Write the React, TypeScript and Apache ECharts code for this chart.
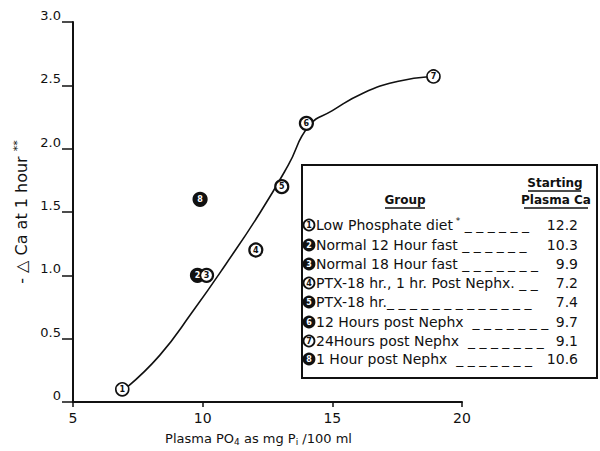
import React, { useEffect, useRef } from "react";
import * as echarts from "echarts";

// ---- data ----
const groupIds = [1, 2, 3, 4, 5, 6, 7, 8];
const plasmaPO4 = [6.9, 9.8, 10.15, 12.05, 13.05, 14.0, 18.9, 9.9];
const deltaCa = [0.1, 1.0, 1.0, 1.2, 1.7, 2.2, 2.57, 1.6];

const curveX = [7.1, 8.35, 9.6, 10.9, 12.2, 13.3, 14.1, 15.0, 16.2, 17.5, 18.8];
const curveY = [0.12, 0.37, 0.71, 1.09, 1.49, 1.87, 2.18, 2.3, 2.44, 2.53, 2.57];

const groupLabels = [
  "Low Phosphate diet",
  "Normal 12 Hour fast",
  "Normal 18 Hour fast",
  "PTX-18 hr., 1 hr. Post Nephx.",
  "PTX-18 hr.",
  "12 Hours post Nephx",
  "24Hours post Nephx",
  "1 Hour post Nephx",
];
const groupDashes = [
  " _ _ _ _ _ _",
  " _ _ _ _ _ _",
  " _ _ _ _ _ _ _",
  " _ _",
  "_ _ _ _ _ _ _ _ _ _ _ _ _",
  "  _ _ _ _ _ _ _",
  "  _ _ _ _ _ _ _",
  "  _ _ _ _ _ _ _",
];
const startingCa = ["12.2", "10.3", "9.9", "7.2", "7.4", "9.7", "9.1", "10.6"];

const X_MIN = 5, X_MAX = 20, X_STEP = 5;
const Y_MIN = 0, Y_MAX = 3, Y_STEP = 0.5;

const FONT = "DejaVu Sans";
const INK = "#111";
const plotFilled = new Set([2, 8]);
const legendFilled = new Set([2, 3, 5, 6, 8]);

export default function App() {
  const ref = useRef<HTMLDivElement>(null);

  useEffect(() => {
    if (!ref.current) return;
    const chart = echarts.init(ref.current, null, { renderer: "svg" });

    const rowY = [225, 245, 264, 283, 302, 322, 341, 359];
    const legendGraphics: any[] = [
      {
        type: "rect",
        shape: { x: 302, y: 165, width: 295, height: 213 },
        style: { fill: "#fff", stroke: INK, lineWidth: 2 },
        z: 10,
      },
      {
        type: "text",
        x: 405, y: 200,
        style: { text: "Group", font: `bold 12px "${FONT}"`, fill: INK, align: "center", verticalAlign: "middle" },
        z: 11,
      },
      { type: "line", shape: { x1: 385, y1: 208, x2: 425, y2: 208 }, style: { stroke: INK, lineWidth: 1.5 }, z: 11 },
      {
        type: "text",
        x: 555, y: 183,
        style: { text: "Starting", font: `bold 12px "${FONT}"`, fill: INK, align: "center", verticalAlign: "middle" },
        z: 11,
      },
      { type: "line", shape: { x1: 528, y1: 191, x2: 581, y2: 191 }, style: { stroke: INK, lineWidth: 1.5 }, z: 11 },
      {
        type: "text",
        x: 556, y: 200,
        style: { text: "Plasma Ca", font: `bold 12px "${FONT}"`, fill: INK, align: "center", verticalAlign: "middle" },
        z: 11,
      },
      { type: "line", shape: { x1: 524, y1: 208, x2: 588, y2: 208 }, style: { stroke: INK, lineWidth: 1.5 }, z: 11 },
    ];

    groupIds.forEach((id, i) => {
      const y = rowY[i];
      const filled = legendFilled.has(id);
      legendGraphics.push({
        type: "circle",
        shape: { cx: 309, cy: y, r: 5.5 },
        style: { fill: filled ? INK : "#fff", stroke: INK, lineWidth: 1.8 },
        z: 11,
      });
      legendGraphics.push({
        type: "text",
        x: 309, y: y + 0.5,
        style: {
          text: String(id),
          font: `bold 8px "${FONT}"`,
          fill: filled ? "#fff" : INK,
          align: "center",
          verticalAlign: "middle",
        },
        z: 12,
      });
      legendGraphics.push({
        type: "text",
        x: 316, y: y,
        style: {
          text: id === 1
            ? `{t|${groupLabels[i]}}{s| *}{t|${groupDashes[i]}}`
            : `{t|${groupLabels[i]}${groupDashes[i]}}`,
          rich: {
            t: { fontFamily: FONT, fontSize: 14, color: INK },
            s: { fontFamily: FONT, fontSize: 9, color: INK, verticalAlign: "top", padding: [0, 0, 8, 0] },
          },
          font: `14px "${FONT}"`,
          fill: INK,
          align: "left",
          verticalAlign: "middle",
        },
        z: 11,
      });
      legendGraphics.push({
        type: "text",
        x: 578, y: y,
        style: {
          text: startingCa[i],
          font: `14px "${FONT}"`,
          fill: INK,
          align: "right",
          verticalAlign: "middle",
        },
        z: 11,
      });
    });

    const option: any = {
      animation: false,
      backgroundColor: "#fff",
      grid: { left: 73, right: 138, top: 22, bottom: 43, containLabel: false },
      xAxis: {
        type: "value",
        min: X_MIN,
        max: X_MAX,
        interval: X_STEP,
        splitLine: { show: false },
        axisLine: { show: true, onZero: false, lineStyle: { color: INK, width: 2 } },
        axisTick: { show: true, length: 5, inside: false, lineStyle: { color: INK, width: 1.5 } },
        axisLabel: { color: INK, fontFamily: FONT, fontSize: 14, margin: 9 },
        name: "Plasma PO{sub|4} as mg P{sub|i} /100 ml",
        nameLocation: "middle",
        nameGap: 29,
        nameTextStyle: {
          color: INK,
          fontFamily: FONT,
          fontSize: 13,
          padding: [0, 18, 0, 0],
          rich: {
            sub: { fontFamily: FONT, fontSize: 9, color: INK, verticalAlign: "bottom", padding: [6, 0, 0, 0] },
          },
        },
      },
      yAxis: {
        type: "value",
        min: Y_MIN,
        max: Y_MAX,
        interval: Y_STEP,
        splitLine: { show: false },
        axisLine: { show: true, onZero: false, lineStyle: { color: INK, width: 2 } },
        axisTick: { show: true, length: 11, inside: false, lineStyle: { color: INK, width: 1.5 } },
        axisLabel: {
          color: INK,
          fontFamily: FONT,
          fontSize: 13,
          margin: 12,
          verticalAlign: "bottom",
          formatter: (v: number) => (v === 0 ? "0" : v.toFixed(1)),
        },
        name: "- △ Ca at 1 hour {sup|**}",
        nameLocation: "middle",
        nameRotate: 90,
        nameGap: 40,
        nameTextStyle: {
          color: INK,
          fontFamily: FONT,
          fontSize: 16,
          rich: {
            sup: { fontFamily: FONT, fontSize: 11, color: INK, verticalAlign: "top", padding: [0, 0, 8, 0] },
          },
        },
      },
      series: [
        {
          type: "line",
          data: curveX.map((x, i) => [x, curveY[i]]),
          smooth: 0.5,
          symbol: "none",
          lineStyle: { color: INK, width: 1.6 },
          z: 2,
          silent: true,
        },
        {
          type: "scatter",
          symbol: "circle",
          symbolSize: 13,
          z: 3,
          data: groupIds.map((id, i) => {
            const filled = plotFilled.has(id);
            return {
              name: String(id),
              value: [plasmaPO4[i], deltaCa[i]],
              itemStyle: {
                color: filled ? INK : "#fff",
                borderColor: INK,
                borderWidth: id === 1 || id === 7 ? 1.6 : 2.2,
                opacity: 1,
              },
              label: { color: filled ? "#fff" : INK },
            };
          }),
          label: {
            show: true,
            position: "inside",
            formatter: (p: any) => p.name,
            fontFamily: FONT,
            fontSize: 8,
            fontWeight: "bold",
          },
        },
      ],
      graphic: legendGraphics,
    };

    chart.setOption(option);
    return () => chart.dispose();
  }, []);

  return (
    <div
      ref={ref}
      style={{ position: "fixed", left: 0, top: 0, width: 600, height: 451, background: "#fff" }}
    />
  );
}
